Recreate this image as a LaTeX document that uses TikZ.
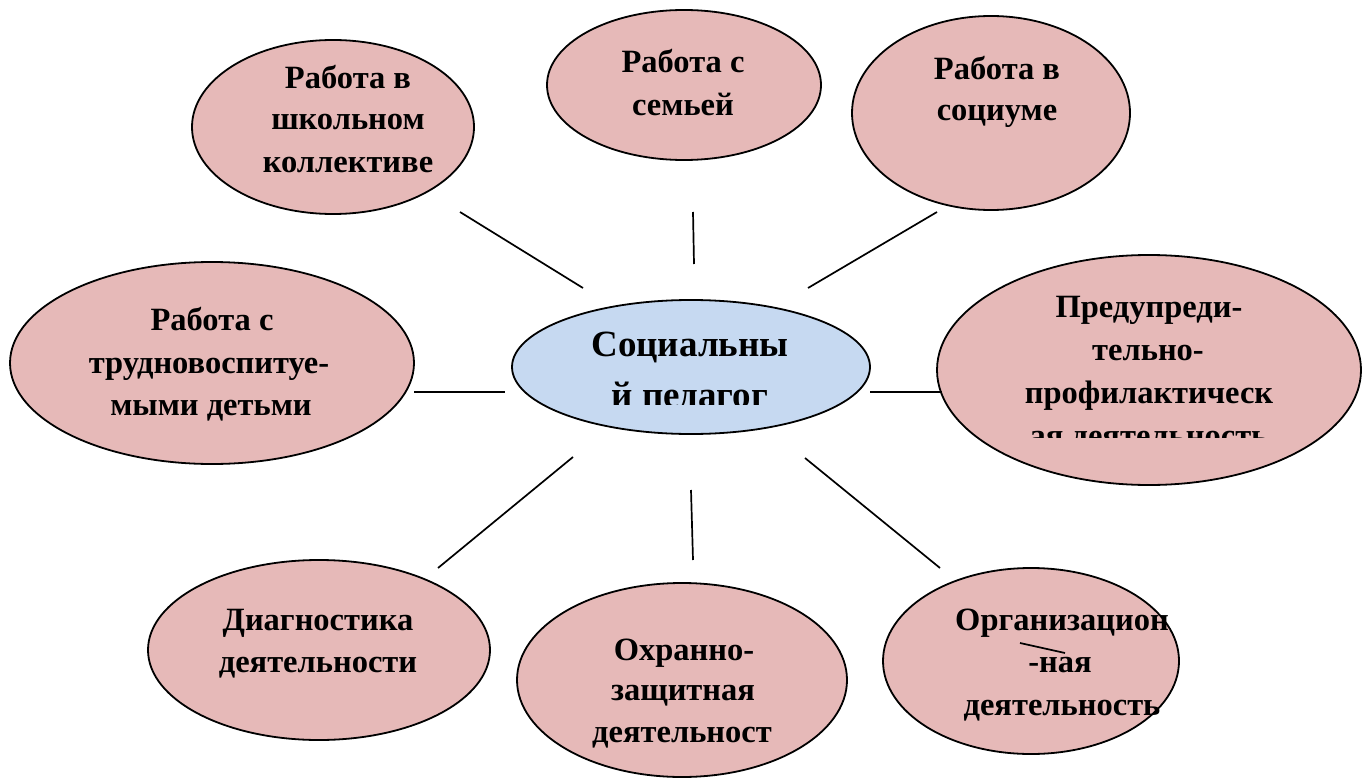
\documentclass[tikz,border=0pt]{standalone}
\usepackage{fontspec}
\setmainfont{Liberation Serif}
\usetikzlibrary{shapes.geometric}
\definecolor{pinkfill}{HTML}{E6B9B8}
\definecolor{bluefill}{HTML}{C6D9F1}
\tikzset{
  bub/.style={ellipse, draw=black, line width=1.8pt, fill=pinkfill, inner sep=0pt},
  hub/.style={ellipse, draw=black, line width=1.8pt, fill=bluefill, inner sep=0pt},
  txt/.style={inner sep=0pt, anchor=base, font=\fontsize{32.5}{38}\selectfont\bfseries},
  htxt/.style={inner sep=0pt, anchor=base, font=\fontsize{37}{44}\selectfont\bfseries},
  conn/.style={draw=black, line width=1.7pt}
}
\begin{document}
\begin{tikzpicture}[x=1pt,y=-1pt]
\useasboundingbox[fill=white] (0,0) rectangle (1368,781);
% ellipses
\node[bub, minimum width=282, minimum height=174] (e1) at (333,127) {};
\node[bub, minimum width=274, minimum height=150] (e2) at (684,85) {};
\node[bub, minimum width=278, minimum height=194] (e3) at (991,113) {};
\node[bub, minimum width=404, minimum height=202] (e4) at (212,363) {};
\node[hub, minimum width=358, minimum height=134] (c) at (691,367) {};
\node[bub, minimum width=424, minimum height=230] (e6) at (1149,370) {};
\node[bub, minimum width=342, minimum height=180] (e7) at (319,650) {};
\node[bub, minimum width=330, minimum height=194] (e8) at (682,680) {};
\node[bub, minimum width=296, minimum height=186] (e9) at (1031,661) {};
% texts
\node[txt] (t1a) at (348,89) {Работа в};
\node[txt] (t1b) at (348,130) {школьном};
\node[txt] (t1c) at (348,172) {коллективе};
\node[txt] (t2a) at (683,73) {Работа с};
\node[txt] (t2b) at (683,116) {семьей};
\node[txt] (t3a) at (997,80) {Работа в};
\node[txt] (t3b) at (997,121) {социуме};
\node[txt] (t4a) at (212,330) {Работа с};
\node[txt] (t4b) at (209,373) {трудновоспитуе-};
\node[txt] (t4c) at (211,415) {мыми детьми};
\node[htxt] (cta) at (690,356) {Социальны};
\begin{scope}
\clip (560,360) rectangle (820,404);
\node[htxt] (ctb) at (690,407) {й педагог};
\end{scope}
\node[txt] (t6a) at (1149,317) {Предупреди-};
\node[txt] (t6b) at (1148,360) {тельно-};
\node[txt] (t6c) at (1149,403) {профилактическ};
\begin{scope}
\clip (1000,410) rectangle (1300,437);
\node[txt] (t6d) at (1149,446) {ая деятельность};
\end{scope}
\node[txt] (t7a) at (318,630) {Диагностика};
\node[txt] (t7b) at (318,672) {деятельности};
\node[txt] (t8a) at (684,660) {Охранно-};
\node[txt] (t8b) at (683,700) {защитная};
\node[txt] (t8c) at (682,742) {деятельност};
\node[txt] (t9a) at (1062,630) {Организацион};
\node[txt] (t9b) at (1060,672) {-ная};
\node[txt] (t9c) at (1062,715) {деятельность};
% connector end points
\coordinate (a1) at (460,212); \coordinate (b1) at (583,288);
\coordinate (a2) at (693,212); \coordinate (b2) at (694,264);
\coordinate (a3) at (937,212); \coordinate (b3) at (808,288);
\coordinate (a4) at (414,392); \coordinate (b4) at (505,392);
\coordinate (a6) at (870,392); \coordinate (b6) at (942,392);
\coordinate (a7) at (573,457); \coordinate (b7) at (438,568);
\coordinate (a8) at (691,490); \coordinate (b8) at (693,560);
\coordinate (a9) at (805,458); \coordinate (b9) at (940,568);
\coordinate (s1) at (1020,643); \coordinate (s2) at (1065,653);
\draw[conn] (a1) -- (b1);
\draw[conn] (a2) -- (b2);
\draw[conn] (a3) -- (b3);
\draw[conn] (a4) -- (b4);
\draw[conn] (a6) -- (b6);
\draw[conn] (a7) -- (b7);
\draw[conn] (a8) -- (b8);
\draw[conn] (a9) -- (b9);
\draw[conn] (s1) -- (s2);
\end{tikzpicture}
\end{document}
